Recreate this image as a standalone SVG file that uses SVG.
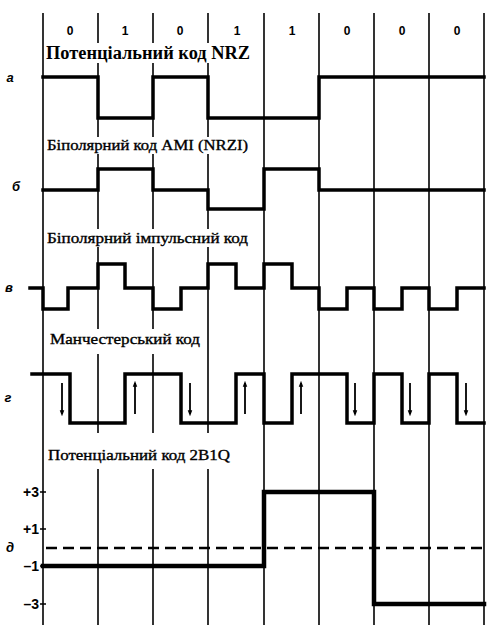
<svg xmlns="http://www.w3.org/2000/svg" width="500" height="637" viewBox="0 0 500 637">
<style>
.grid{stroke:#000;stroke-width:1.6;fill:none}
.sig{stroke:#000;stroke-width:3.5;fill:none;stroke-linejoin:miter;stroke-linecap:square}
.bg{fill:#fff}
.lbl{font-family:"Liberation Serif",serif;font-size:15px;fill:#000;stroke:#000;stroke-width:0.35}
.lblb{font-family:"Liberation Serif",serif;font-size:18px;font-weight:bold;fill:#000}
.dig{font-family:"Liberation Sans",Arial,sans-serif;font-size:12px;font-weight:bold;fill:#000;text-anchor:middle}
.let{font-family:"Liberation Sans",Arial,sans-serif;font-size:13px;font-weight:bold;font-style:italic;fill:#000;text-anchor:middle}
.lev{font-family:"Liberation Sans",Arial,sans-serif;font-size:14px;font-weight:bold;fill:#000;text-anchor:end}
.arr{stroke:#000;stroke-width:1.8;fill:none}
</style>
<defs>
<marker id="ah" markerWidth="6" markerHeight="8" refX="5" refY="3" orient="auto" markerUnits="userSpaceOnUse" viewBox="0 0 8 6">
<path d="M0,0 L8,3 L0,6 Z" fill="#000"/>
</marker>
</defs>
<rect width="500" height="637" fill="#fff"/>
<g id="grid">
<line class="grid" x1="43" y1="13" x2="43" y2="625"/>
<line class="grid" x1="98" y1="13" x2="98" y2="625"/>
<line class="grid" x1="153" y1="13" x2="153" y2="625"/>
<line class="grid" x1="208" y1="13" x2="208" y2="625"/>
<line class="grid" x1="264" y1="13" x2="264" y2="625"/>
<line class="grid" x1="319" y1="13" x2="319" y2="625"/>
<line class="grid" x1="374" y1="13" x2="374" y2="625"/>
<line class="grid" x1="429" y1="13" x2="429" y2="625"/>
<line class="grid" x1="484" y1="13" x2="484" y2="625"/>
</g>
<g id="bits">
<text class="dig" x="70" y="35">0</text>
<text class="dig" x="125" y="35">1</text>
<text class="dig" x="180" y="35">0</text>
<text class="dig" x="237" y="35">1</text>
<text class="dig" x="292" y="35">1</text>
<text class="dig" x="347" y="35">0</text>
<text class="dig" x="402" y="35">0</text>
<text class="dig" x="457" y="35">0</text>
</g>
<g id="row-letters">
<text class="let" x="10" y="82">а</text>
<text class="let" x="16" y="191">б</text>
<text class="let" x="9" y="292">в</text>
<text class="let" x="8" y="402">г</text>
<text class="let" x="10" y="552">д</text>
</g>
<g id="nrz">
<rect class="bg" x="45" y="43" width="208" height="20"/>
<text class="lblb" x="46" y="59" textLength="204" lengthAdjust="spacingAndGlyphs">Потенціальний код NRZ</text>
<path class="sig" d="M43,77 H98 V118 H153 V77 H208 V118 H319 V77 H484"/>
</g>
<g id="ami">
<rect class="bg" x="45" y="137" width="206" height="17"/>
<text class="lbl" x="47" y="150" textLength="201" lengthAdjust="spacingAndGlyphs">Біполярний код AMI (NRZI)</text>
<path class="sig" d="M43,190 H98 V169 H153 V190 H208 V209 H264 V169 H319 V190 H484"/>
</g>
<g id="bipolar">
<rect class="bg" x="45" y="229" width="206" height="18"/>
<text class="lbl" x="47" y="243" textLength="201" lengthAdjust="spacingAndGlyphs">Біполярний імпульсний код</text>
<path class="sig" d="M30,288 H43 V309 H68 V288 H98 V264 H125 V288 H153 V309 H181 V288 H208 V264 H236 V288 H264 V264 H292 V288 H319 V309 H347 V288 H374 V309 H402 V288 H429 V309 H457 V288 H484"/>
</g>
<g id="manchester">
<rect class="bg" x="45" y="329" width="158" height="25"/>
<text class="lbl" x="50" y="344" textLength="150" lengthAdjust="spacingAndGlyphs">Манчестерський код</text>
<path class="sig" d="M32,374 H70 V423 H125 V374 H181 V423 H236 V374 H264 V423 H292 V374 H347 V423 H374 V374 H402 V423 H429 V374 H457 V423 H484"/>
</g>
<g id="connectors">
<line class="arr" x1="62" y1="383" x2="62" y2="414" marker-end="url(#ah)"/>
<line class="arr" x1="135" y1="414" x2="135" y2="383" marker-end="url(#ah)"/>
<line class="arr" x1="190" y1="383" x2="190" y2="414" marker-end="url(#ah)"/>
<line class="arr" x1="245" y1="414" x2="245" y2="383" marker-end="url(#ah)"/>
<line class="arr" x1="301" y1="414" x2="301" y2="383" marker-end="url(#ah)"/>
<line class="arr" x1="355" y1="383" x2="355" y2="414" marker-end="url(#ah)"/>
<line class="arr" x1="410" y1="383" x2="410" y2="414" marker-end="url(#ah)"/>
<line class="arr" x1="466" y1="383" x2="466" y2="414" marker-end="url(#ah)"/>
</g>
<g id="code-2b1q">
<rect class="bg" x="45" y="433" width="189" height="36"/>
<text class="lbl" x="48" y="460" textLength="182" lengthAdjust="spacingAndGlyphs">Потенціальний код 2B1Q</text>
<text class="lev" x="39" y="497">+3</text>
<text class="lev" x="39" y="534">+1</text>
<text class="lev" x="39" y="571">–1</text>
<text class="lev" x="39" y="609">–3</text>
<path class="grid" d="M40,492 H46 M40,529 H46 M40,566 H46 M40,604 H46"/>
<line x1="46" y1="548" x2="484" y2="548" stroke="#000" stroke-width="2.5" stroke-dasharray="11 6"/>
<path class="sig" style="stroke-width:4.5" d="M43,566 H264 V492 H374 V604 H484"/>
</g>
</svg>
